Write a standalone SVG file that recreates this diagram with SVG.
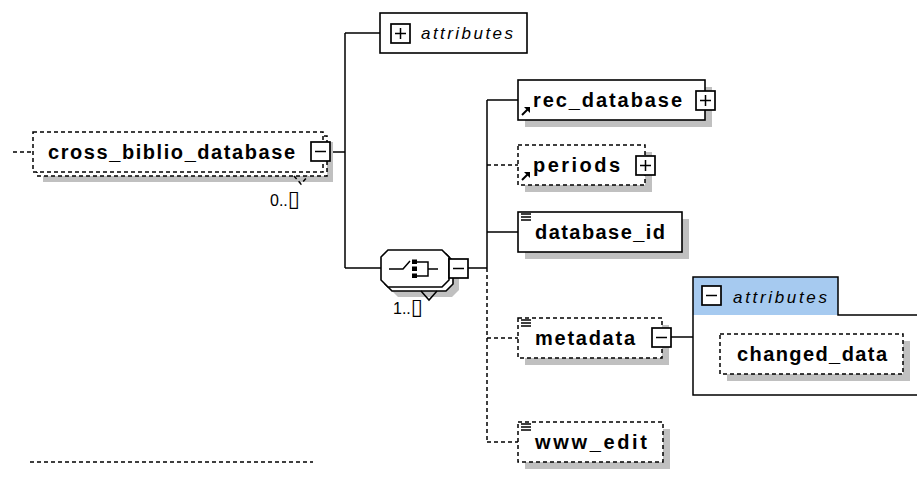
<svg xmlns="http://www.w3.org/2000/svg" width="917" height="489" viewBox="0 0 917 489">
<style>
.bg{fill:#fff}
.box{fill:#fff;stroke:#000;stroke-width:1.6}
.dbox{fill:#fff;stroke:#000;stroke-width:1.5;stroke-dasharray:4 3}
.shadow{fill:#c0c0c0;stroke:none}
.ln{fill:none;stroke:#000;stroke-width:1.5}
.dln{fill:none;stroke:#000;stroke-width:1.5;stroke-dasharray:4 3}
.icon{fill:#fff;stroke:#000;stroke-width:1.7}
.name{font-family:"Liberation Sans",Arial,sans-serif;font-weight:bold;font-size:20px;fill:#000}
.attr{font-family:"Liberation Sans",Arial,sans-serif;font-style:italic;font-size:17px;fill:#000}
.occ{font-family:"Liberation Sans",Arial,sans-serif;font-size:16px;fill:#000}
.tofu{font-family:"DejaVu Sans",sans-serif;font-size:22px}
</style>
<defs>
<g id="plus"><rect class="icon" x="0" y="0" width="19" height="19"/><path class="ln" d="M4,9.5H15M9.5,4V15"/></g>
<g id="minus"><rect class="icon" x="0" y="0" width="19" height="19"/><path class="ln" d="M4,9.5H15"/></g>
<g id="ref"><path d="M1,9L7,3" stroke="#000" stroke-width="2" fill="none"/><path d="M3,1H9V7Z" fill="#000"/></g>
<g id="simple"><path class="ln" d="M0,1H10M0,4H10M0,7H10"/></g>
</defs>
<rect class="bg" x="0" y="0" width="917" height="489"/>

<g id="connectors">
<path class="dln" d="M13,152H33"/>
<path class="ln" d="M330,152H345M345,33V268M345,33H380M345,268H381"/>
<path class="ln" d="M468,268H487M487,100V268M487,100H518M487,232H518"/>
<path class="dln" d="M487,268V442M487,165H518M487,338H518M487,442H518"/>
<path class="ln" d="M671,337H693"/>
<path class="dln" d="M30,462H313"/>
</g>

<g id="cross_biblio_database">
<rect class="shadow" x="43" y="142" width="290" height="40"/>
<rect class="dbox" x="37" y="136" width="290" height="40"/>
<rect class="dbox" x="33" y="132" width="290" height="40"/>
<polyline class="dln" points="294,176 301,184 308,176" stroke-dasharray="3 2"/>
<text class="name" x="48" y="159" textLength="247" lengthAdjust="spacing">cross_biblio_database</text>
<use href="#minus" x="311" y="142"/>
<text class="occ" x="270" y="206">0..<tspan class="tofu">▯</tspan></text>
</g>

<g id="attributes_top">
<rect class="box" x="380" y="13" width="147" height="40"/>
<use href="#plus" x="391" y="24"/>
<text class="attr" x="421" y="39" textLength="92" lengthAdjust="spacing">attributes</text>
</g>

<g id="sequence">
<polygon class="shadow" points="398,260 452,260 459,267 459,290 452,297 398,297 391,290 391,267"/>
<polygon class="box" points="392,254 446,254 453,261 453,284 446,291 392,291 385,284 385,261"/>
<polygon class="box" points="388,250 442,250 449,257 449,280 442,287 388,287 381,280 381,257"/>
<polyline class="ln" points="421,291 429,300 437,291"/>
<path class="ln" d="M389,269H403L410,261"/>
<rect x="412" y="259.5" width="5" height="4.5" fill="#000"/>
<rect x="412" y="266.5" width="5" height="4.5" fill="#000"/>
<rect x="412" y="273.5" width="5" height="4.5" fill="#000"/>
<path class="ln" d="M417,262H428V276H417M428,269H438"/>
<use href="#minus" x="449" y="259"/>
<text class="occ" x="393" y="314">1..<tspan class="tofu">▯</tspan></text>
</g>

<g id="rec_database">
<rect class="shadow" x="525" y="87" width="187" height="40"/>
<rect class="box" x="518" y="80" width="187" height="40"/>
<use href="#ref" x="521" y="106"/>
<text class="name" x="533" y="107" textLength="149" lengthAdjust="spacing">rec_database</text>
<use href="#plus" x="696" y="91"/>
</g>

<g id="periods">
<rect class="shadow" x="525" y="152" width="127" height="40"/>
<rect class="dbox" x="518" y="145" width="127" height="40"/>
<use href="#ref" x="521" y="171"/>
<text class="name" x="533" y="172" textLength="87" lengthAdjust="spacing">periods</text>
<use href="#plus" x="636" y="156"/>
</g>

<g id="database_id">
<rect class="shadow" x="525" y="219" width="164" height="40"/>
<rect class="box" x="518" y="212" width="164" height="40"/>
<use href="#simple" x="521" y="213"/>
<text class="name" x="535" y="239" textLength="130" lengthAdjust="spacing">database_id</text>
</g>

<g id="metadata">
<rect class="shadow" x="525" y="325" width="144" height="40"/>
<rect class="dbox" x="518" y="318" width="144" height="40"/>
<use href="#simple" x="521" y="319"/>
<text class="name" x="535" y="345" textLength="100" lengthAdjust="spacing">metadata</text>
<use href="#minus" x="652" y="328"/>
</g>

<g id="www_edit">
<rect class="shadow" x="525" y="429" width="145" height="40"/>
<rect class="dbox" x="518" y="422" width="145" height="40"/>
<use href="#simple" x="521" y="423"/>
<text class="name" x="535" y="449" textLength="112" lengthAdjust="spacing">www_edit</text>
</g>

<g id="metadata_attributes">
<rect x="693" y="277" width="224" height="118" fill="#fff"/>
<rect x="693" y="277" width="145" height="38" fill="#a6caf0"/>
<path class="ln" d="M917,315H838V277H693V395H917" stroke-width="1.6"/>
<use href="#minus" x="702" y="286"/>
<text class="attr" x="733" y="303" textLength="94" lengthAdjust="spacing">attributes</text>
</g>

<g id="changed_data">
<rect class="shadow" x="727" y="341" width="183" height="40"/>
<rect class="dbox" x="720" y="334" width="183" height="40"/>
<text class="name" x="737" y="361" textLength="150" lengthAdjust="spacing">changed_data</text>
</g>
</svg>
